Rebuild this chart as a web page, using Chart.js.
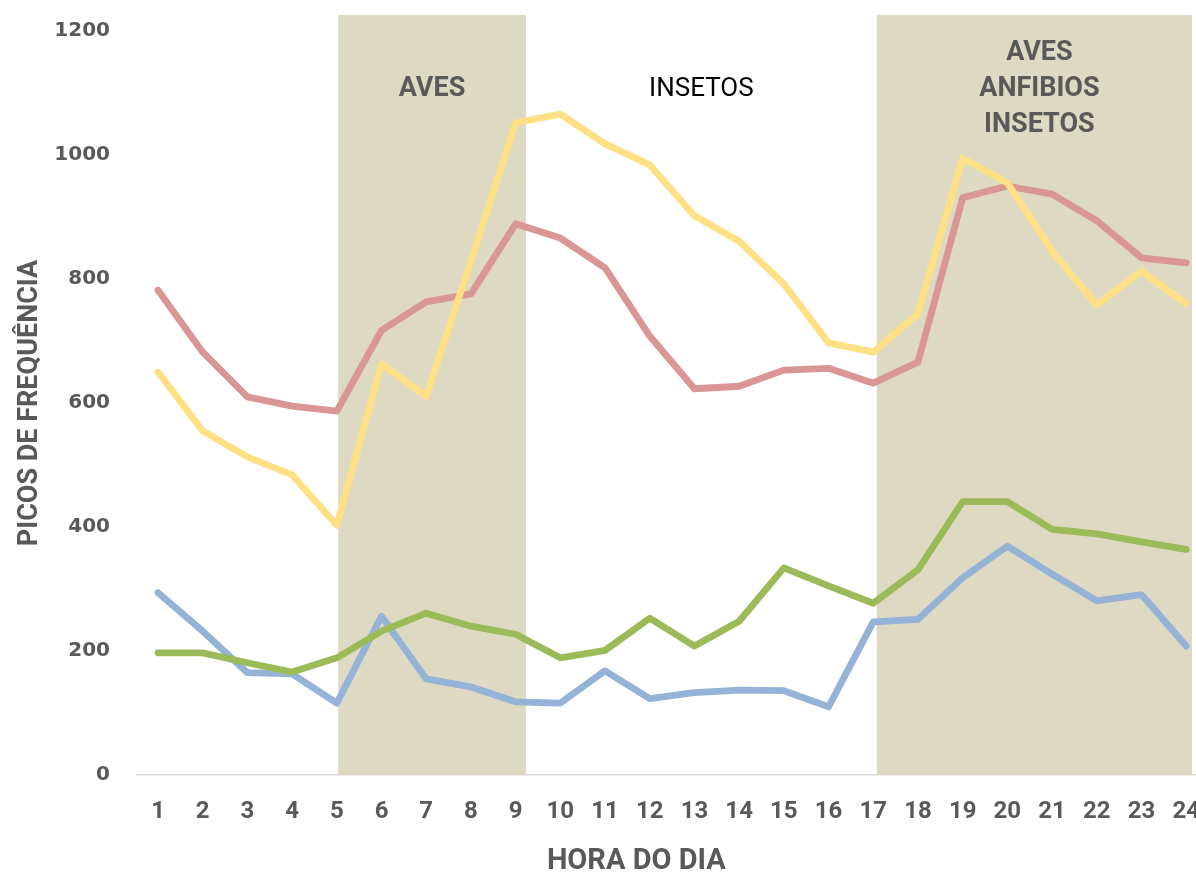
<!DOCTYPE html>
<html>
<head>
<meta charset="utf-8">
<script src="https://cdn.jsdelivr.net/npm/chart.js@4.4.1/dist/chart.umd.min.js"></script>
<style>
  html, body { margin: 0; padding: 0; background: #ffffff; }
  #wrap { width: 1196px; height: 875px; position: relative; }
</style>
</head>
<body>
<div id="wrap"><canvas id="chart" width="1196" height="875"></canvas></div>
<script>
// Hours of the day (x categories)
const hours = [1, 2, 3, 4, 5, 6, 7, 8, 9, 10, 11, 12, 13, 14, 15, 16, 17, 18, 19, 20, 21, 22, 23, 24];

// Frequency peaks per hour, one array per series
const serieAmarela = [650, 555, 513, 484, 403, 663, 611, 829, 1052, 1066, 1018, 984, 902, 861, 792, 697, 682, 744, 995, 955, 845, 758, 813, 760];
const serieVermelha = [782, 682, 610, 595, 587, 717, 763, 776, 889, 866, 818, 708, 623, 627, 653, 656, 632, 666, 931, 950, 937, 894, 834, 826];
const serieVerde = [197, 197, 181, 166, 189, 232, 261, 240, 227, 189, 201, 253, 208, 248, 334, 305, 277, 331, 441, 441, 396, 389, 376, 364];
const serieAzul = [294, 232, 165, 163, 116, 256, 155, 142, 118, 116, 168, 123, 133, 137, 136, 110, 247, 251, 318, 369, 324, 281, 291, 208];

// Y axis tick labels
const yTicks = [0, 200, 400, 600, 800, 1000, 1200];

// Day periods: where each starts/ends on the hour axis, whether shaded, and its caption
const periodFrom = [5.03, 9.23, 17.08];
const periodTo = [9.23, 17.08, 24.13];
const periodShaded = [true, false, true];
const periodCaption = [['AVES'], ['INSETOS'], ['AVES', 'ANFIBIOS', 'INSETOS']];

const xTitle = 'HORA DO DIA';
const yTitle = 'PICOS DE FREQUÊNCIA';

const GREY = '#595959';
const SHADE = '#DDD9C3';
const SANS = "Roboto, 'Noto Sans', sans-serif";

const toPoints = arr => arr.map((v, i) => ({ x: hours[i], y: v }));

// Shaded bands behind the lines, their captions and the hour-axis title
const periodsPlugin = {
  id: 'periods',
  beforeDatasetsDraw(chart) {
    const { ctx, scales: { x, y } } = chart;
    const top = y.getPixelForValue(1226);
    const bottom = y.getPixelForValue(0);
    ctx.save();
    ctx.fillStyle = SHADE;
    periodFrom.forEach((f, i) => {
      if (!periodShaded[i]) return;
      const x0 = x.getPixelForValue(f);
      const x1 = x.getPixelForValue(periodTo[i]);
      ctx.fillRect(x0, top, x1 - x0, bottom - top);
    });
    ctx.restore();
  },
  afterDatasetsDraw(chart) {
    const { ctx, scales: { x, y } } = chart;
    const centreY = y.getPixelForValue(1106);
    const lineGap = 36;
    ctx.save();
    ctx.textAlign = 'center';
    ctx.textBaseline = 'middle';
    periodCaption.forEach((lines, i) => {
      let cx = (x.getPixelForValue(periodFrom[i]) + x.getPixelForValue(periodTo[i])) / 2;
      if (periodShaded[i]) {
        ctx.font = 'bold 27px ' + SANS;
        ctx.fillStyle = GREY;
      } else {
        ctx.font = '26px ' + SANS;
        ctx.fillStyle = '#000000';
      }
      if (lines.length > 1) cx += 5;
      const startY = centreY - (lines.length - 1) * lineGap / 2;
      lines.forEach((t, k) => ctx.fillText(t, cx, startY + k * lineGap));
    });

    // hour-axis title
    ctx.font = 'bold 29px ' + SANS;
    ctx.fillStyle = GREY;
    ctx.fillText(xTitle, x.getPixelForValue(11.7), chart.height - 13);
    ctx.restore();
  }
};

const lineStyle = {
  borderWidth: 6.8,
  pointRadius: 0,
  pointHoverRadius: 0,
  tension: 0,
  fill: false,
  borderCapStyle: 'round',
  borderJoinStyle: 'round'
};

new Chart(document.getElementById('chart'), {
  type: 'line',
  data: {
    datasets: [
      { ...lineStyle, data: toPoints(serieAmarela), borderColor: '#FFE084' },
      { ...lineStyle, data: toPoints(serieVerde), borderColor: '#9BBB59' },
      { ...lineStyle, data: toPoints(serieVermelha), borderColor: '#D99694' },
      { ...lineStyle, data: toPoints(serieAzul), borderColor: '#95B3D7' }
    ]
  },
  plugins: [periodsPlugin],
  options: {
    responsive: false,
    animation: false,
    events: [],
    layout: { padding: { top: 31, right: 0, left: 0, bottom: 0 } },
    plugins: { legend: { display: false }, tooltip: { enabled: false } },
    scales: {
      x: {
        type: 'linear',
        min: 0.53,
        max: 24.22,
        afterBuildTicks: axis => { axis.ticks = hours.map(h => ({ value: h })); },
        afterFit: axis => { axis.height = 100; axis.paddingLeft = 0; axis.paddingRight = 0; },
        grid: { display: false, drawTicks: false },
        border: { display: true, color: '#D9D9D9', width: 1.5 },
        ticks: {
          padding: 23,
          color: GREY,
          font: { family: SANS, size: 24, weight: 'bold' },
          maxRotation: 0,
          autoSkip: false,
          callback: v => String(v)
        },
        title: { display: false }
      },
      y: {
        min: 0,
        max: 1200,
        afterBuildTicks: axis => { axis.ticks = yTicks.map(v => ({ value: v })); },
        afterFit: axis => { axis.width = 137; axis.paddingTop = 0; axis.paddingBottom = 0; },
        grid: { display: false, drawTicks: false },
        border: { display: false },
        ticks: {
          padding: 27,
          color: GREY,
          font: { family: "'DejaVu Sans', sans-serif", size: 20, weight: 'bold' },
          callback: v => String(v)
        },
        title: {
          display: true,
          text: yTitle,
          color: GREY,
          font: { family: SANS, size: 27, weight: 'bold', lineHeight: 1 },
          padding: { top: 17, bottom: 0 }
        }
      }
    }
  }
});
</script>
</body>
</html>
